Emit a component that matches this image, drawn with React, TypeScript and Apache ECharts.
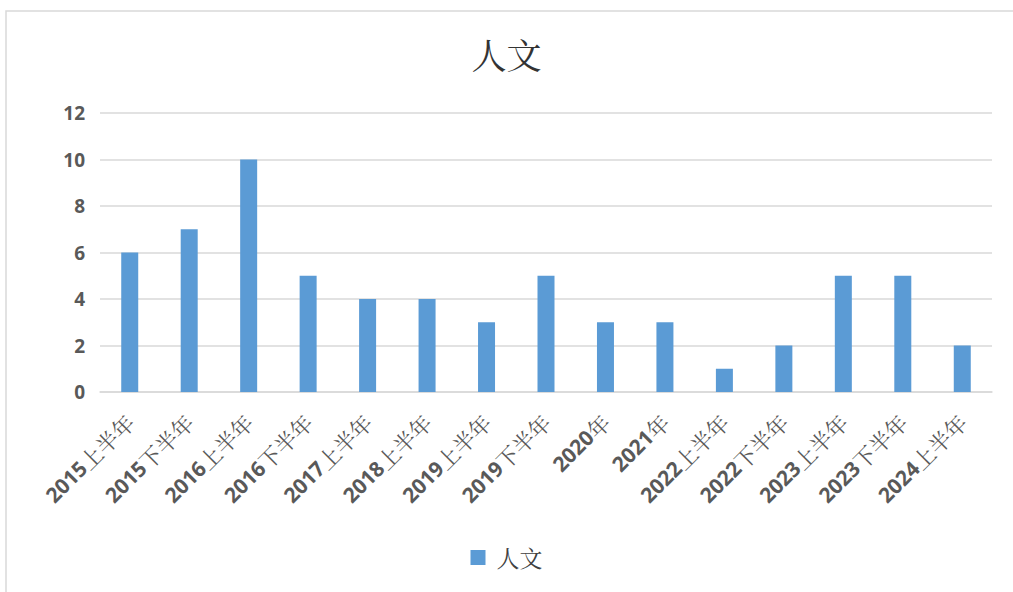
import React, { useEffect, useRef } from "react";
import * as echarts from "echarts";

const categories = [
  "2015上半年", "2015下半年", "2016上半年", "2016下半年", "2017上半年",
  "2018上半年", "2019上半年", "2019下半年", "2020年", "2021年",
  "2022上半年", "2022下半年", "2023上半年", "2023下半年", "2024上半年",
];
const values = [6, 7, 10, 5, 4, 4, 3, 5, 3, 3, 1, 2, 5, 5, 2];
const seriesName = "人文";
const titleText = "人文";

export default function App() {
  const ref = useRef<HTMLDivElement>(null);
  useEffect(() => {
    if (!ref.current) return;
    const chart = echarts.init(ref.current, null, { renderer: "svg" });
    chart.setOption({
      animation: false,
      backgroundColor: "#ffffff",
      title: {
        text: titleText,
        left: "center",
        top: 31,
        textStyle: {
          fontFamily: "'Noto Serif CJK SC', 'Noto Sans CJK SC', serif",
          fontSize: 35,
          fontWeight: "normal",
          color: "#333333",
        },
      },
      graphic: [
        {
          type: "rect",
          shape: { x: 6, y: 11, width: 1020, height: 600 },
          style: { fill: "none", stroke: "#d9d9d9", lineWidth: 1.5 },
          silent: true,
        },
      ],
      grid: { left: 100, right: 21, top: 113, bottom: 200 },
      xAxis: {
        type: "category",
        data: categories,
        axisLine: { show: true, lineStyle: { color: "#d9d9d9", width: 1.5 } },
        axisTick: { show: false },
        axisLabel: {
          rotate: 45,
          interval: 0,
          margin: 26,
          formatter: (v: string) => {
            const m = v.match(/^(\d+)(.*)$/);
            if (!m) return v;
            return `{a|${m[1]}}{b|${m[2]}}`;
          },
          rich: {
            a: {
              color: "#595959",
              fontSize: 21,
              fontWeight: "bold",
              fontFamily: "'Open Sans', sans-serif",
            },
            b: {
              color: "#595959",
              fontSize: 22,
              fontWeight: "normal",
              fontFamily: "'Noto Serif CJK SC', 'Noto Sans CJK SC', serif",
            },
          },
        },
      },
      yAxis: {
        type: "value",
        min: 0,
        max: 12,
        interval: 2,
        axisLine: { show: false },
        axisTick: { show: false },
        splitLine: { lineStyle: { color: "#d9d9d9", width: 1.5 } },
        axisLabel: {
          color: "#595959",
          fontSize: 19,
          fontWeight: "bold",
          fontFamily: "'Open Sans', sans-serif",
          margin: 15,
        },
      },
      legend: {
        bottom: 18,
        left: "center",
        itemWidth: 15,
        itemHeight: 15,
        icon: "rect",
        itemGap: 10,
        textStyle: {
          fontSize: 23,
          color: "#404040",
          padding: [0, 0, 0, 6],
          fontFamily: "'Noto Serif CJK SC', 'Noto Sans CJK SC', serif",
        },
        data: [seriesName],
      },
      series: [
        {
          name: seriesName,
          type: "bar",
          data: values,
          barWidth: 17,
          itemStyle: { color: "#5B9BD5" },
        },
      ],
    });
    return () => chart.dispose();
  }, []);
  return (
    <div
      ref={ref}
      style={{ position: "fixed", left: 0, top: 0, width: 1013, height: 592 }}
    />
  );
}
